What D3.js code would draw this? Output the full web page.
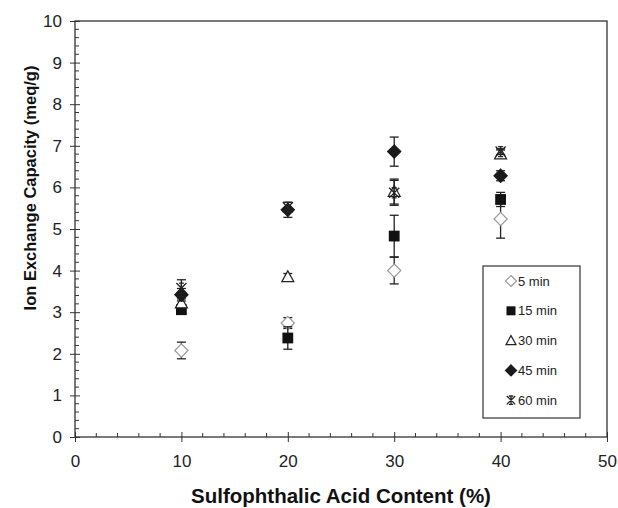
<!DOCTYPE html>
<html>
<head>
<meta charset="utf-8">
<script src="https://cdn.jsdelivr.net/npm/d3@7"></script>
<style>
  body { margin: 0; background: #fff; }
  svg { display: block; font-family: Arial, "Liberation Sans", sans-serif; }
  .tick-label { font-size: 17px; fill: #222; }
  .axis-title { font-weight: bold; fill: #111; }
  .legend-text { font-size: 13px; fill: #222; }
</style>
</head>
<body>
<div id="chart"></div>
<script>
var svgWidth = 618;
var svgHeight = 508;

var margin = { top: 21, right: 11, bottom: 71, left: 75 };
var width = svgWidth - margin.left - margin.right;
var height = svgHeight - margin.top - margin.bottom;

// data
var acidContent = [10, 20, 30, 40];
var seriesNames = ["5 min", "15 min", "30 min", "45 min", "60 min"];
var iec5 = [2.08, 2.74, 4.0, 5.24];
var err5 = [0.2, 0.13, 0.32, 0.46];
var iec15 = [3.06, 2.38, 4.83, 5.71];
var err15 = [0.1, 0.27, 0.5, 0.17];
var iec30 = [3.22, 3.85, 5.9, 6.8];
var err30 = [0.1, 0.08, 0.3, 0.1];
var iec45 = [3.42, 5.46, 6.86, 6.28];
var err45 = [0.15, 0.18, 0.35, 0.12];
var iec60 = [3.58, 5.52, 5.87, 6.86];
var err60 = [0.2, 0.12, 0.3, 0.07];
var xTicks = [0, 10, 20, 30, 40, 50];
var yTicks = [0, 1, 2, 3, 4, 5, 6, 7, 8, 9, 10];

var seriesData = [
  { name: seriesNames[0], values: iec5, errors: err5, marker: "diamondOpen" },
  { name: seriesNames[1], values: iec15, errors: err15, marker: "square" },
  { name: seriesNames[2], values: iec30, errors: err30, marker: "triangle" },
  { name: seriesNames[3], values: iec45, errors: err45, marker: "diamond" },
  { name: seriesNames[4], values: iec60, errors: err60, marker: "star" }
];

var svg = d3.select("#chart")
  .append("svg")
  .attr("width", svgWidth)
  .attr("height", svgHeight);

var chartGroup = svg.append("g")
  .attr("transform", `translate(${margin.left}, ${margin.top})`);

var xScale = d3.scaleLinear().domain([0, 50]).range([0, width]);
var yScale = d3.scaleLinear().domain([0, 10]).range([height, 0]);

var axisColor = "#333";

// frame
chartGroup.append("rect")
  .attr("width", width)
  .attr("height", height)
  .attr("fill", "none")
  .attr("stroke", axisColor)
  .attr("stroke-width", 1.3);

// minor ticks (inside only)
var yMinor = d3.range(0, 10.01, 0.2).filter(v => Math.abs(v - Math.round(v)) > 0.01);
chartGroup.selectAll(".y-minor")
  .data(yMinor)
  .enter()
  .append("line")
  .attr("x1", 0).attr("x2", 4)
  .attr("y1", d => yScale(d)).attr("y2", d => yScale(d))
  .attr("stroke", axisColor);

var xMinor = d3.range(0, 50.01, 2).filter(v => v % 10 !== 0);
chartGroup.selectAll(".x-minor")
  .data(xMinor)
  .enter()
  .append("line")
  .attr("x1", d => xScale(d)).attr("x2", d => xScale(d))
  .attr("y1", height).attr("y2", height - 4)
  .attr("stroke", axisColor);

// y axis with crossing major ticks
var yAxis = chartGroup.append("g")
  .call(d3.axisLeft(yScale).tickValues(yTicks).tickSizeInner(5).tickSizeOuter(0).tickPadding(8));
yAxis.select(".domain").remove();
yAxis.selectAll(".tick line").attr("x2", 5).attr("x1", -5).attr("stroke", axisColor);
yAxis.selectAll(".tick text").attr("class", "tick-label").attr("font-size", null).attr("font-family", null);

var xAxis = chartGroup.append("g")
  .attr("transform", `translate(0, ${height})`)
  .call(d3.axisBottom(xScale).tickValues(xTicks).tickSizeInner(5).tickSizeOuter(0).tickPadding(13));
xAxis.select(".domain").remove();
xAxis.selectAll(".tick line").attr("y1", -5).attr("y2", 5).attr("stroke", axisColor);
xAxis.selectAll(".tick text").attr("class", "tick-label").attr("font-size", null).attr("font-family", null);

// axis titles
svg.append("text")
  .attr("class", "axis-title")
  .attr("font-size", 20.5)
  .attr("x", margin.left + width / 2)
  .attr("y", 503)
  .attr("text-anchor", "middle")
  .text("Sulfophthalic Acid Content (%)");

svg.append("text")
  .attr("class", "axis-title")
  .attr("font-size", 16.5)
  .attr("transform", "translate(36, 188) rotate(-90)")
  .attr("text-anchor", "middle")
  .text("Ion Exchange Capacity (meq/g)");

// marker shapes
function drawMarker(g, type, s) {
  if (type === "diamondOpen" || type === "diamond") {
    var r = s * 0.55;
    g.append("path")
      .attr("d", `M0,${-r}L${r},0L0,${r}L${-r},0Z`)
      .attr("fill", type === "diamond" ? "#1a1a1a" : "#fff")
      .attr("stroke", type === "diamond" ? "#1a1a1a" : "#9a9a9a")
      .attr("stroke-width", 1.2);
  } else if (type === "square") {
    var h = s * 0.45;
    g.append("rect")
      .attr("x", -h).attr("y", -h).attr("width", 2 * h).attr("height", 2 * h)
      .attr("fill", "#111");
  } else if (type === "triangle") {
    var t = s * 0.5;
    g.append("path")
      .attr("d", `M0,${-t}L${t},${t * 0.8}L${-t},${t * 0.8}Z`)
      .attr("fill", "#fff")
      .attr("stroke", "#222")
      .attr("stroke-width", 1.2);
  } else if (type === "star") {
    var a = s * 0.42;
    g.append("path")
      .attr("d", `M${-a},${-a}L${a},${a}M${a},${-a}L${-a},${a}M0,${-a}L0,${a}M${-a * 0.5},${-a}H${a * 0.5}M${-a * 0.5},${a}H${a * 0.5}`)
      .attr("fill", "none")
      .attr("stroke", "#222")
      .attr("stroke-width", 1.3);
  }
}

// error bars and points
var capHalf = 4.5;
seriesData.forEach(function(series) {
  var sg = chartGroup.append("g");
  acidContent.forEach(function(x, i) {
    var cx = xScale(x);
    var lo = yScale(series.values[i] - series.errors[i]);
    var hi = yScale(series.values[i] + series.errors[i]);
    sg.append("line").attr("x1", cx).attr("x2", cx).attr("y1", lo).attr("y2", hi)
      .attr("stroke", "#222").attr("stroke-width", 1.3);
    [lo, hi].forEach(function(yy) {
      sg.append("line").attr("x1", cx - capHalf).attr("x2", cx + capHalf).attr("y1", yy).attr("y2", yy)
        .attr("stroke", "#222").attr("stroke-width", 1.3);
    });
  });
  acidContent.forEach(function(x, i) {
    var mg = sg.append("g")
      .attr("transform", `translate(${xScale(x)}, ${yScale(series.values[i])})`);
    drawMarker(mg, series.marker, 12);
  });
});

// legend
var legend = svg.append("g").attr("transform", "translate(483, 266)");
legend.append("rect")
  .attr("width", 97)
  .attr("height", 152)
  .attr("fill", "#fff")
  .attr("stroke", axisColor)
  .attr("stroke-width", 1.2);

seriesData.forEach(function(series, i) {
  var row = legend.append("g").attr("transform", `translate(28, ${15 + i * 29.8})`);
  drawMarker(row.append("g"), series.marker, 10);
  row.append("text")
    .attr("class", "legend-text")
    .attr("x", 7)
    .attr("dy", "0.36em")
    .text(series.name);
});
</script>
</body>
</html>
